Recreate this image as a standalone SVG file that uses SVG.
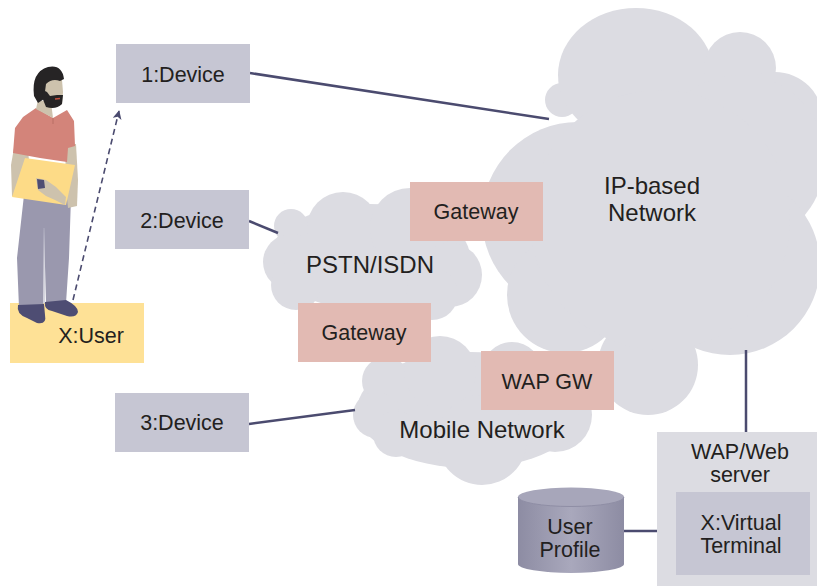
<svg xmlns="http://www.w3.org/2000/svg" width="817" height="586" viewBox="0 0 817 586">
  <defs>
    <style>
      .lbl { font-family: "Liberation Sans", Arial, Helvetica, sans-serif; font-size: 21.5px; fill: #231f20; text-anchor: middle; }
      .cl { font-size: 24px; }
      .dev { fill: #c6c6d3; }
      .gw { fill: #e2bab3; }
      .cloud { fill: #dcdce2; }
      .link { stroke: #4b4b6f; stroke-width: 2.5; fill: none; }
      .skin { fill: #cdc2ad; }
    </style>
    <marker id="arrowhead" viewBox="0 0 10 10" refX="9" refY="5" markerWidth="9" markerHeight="9" markerUnits="userSpaceOnUse" orient="auto">
      <path d="M0,0 L10,5 L0,10 L2.5,5 Z" fill="#4b4b6f"/>
    </marker>
    <linearGradient id="cylBody" x1="0" y1="0" x2="1" y2="0">
      <stop offset="0" stop-color="#8d8ca3"/>
      <stop offset="0.5" stop-color="#a9a8bc"/>
      <stop offset="1" stop-color="#8d8ca3"/>
    </linearGradient>
  </defs>

  <!-- IP-based network cloud -->
  <g id="ip-network" class="cloud">
    <circle cx="562" cy="100" r="17"/>
    <ellipse cx="636" cy="75" rx="78" ry="67"/>
    <circle cx="740" cy="68" r="36"/>
    <circle cx="775" cy="120" r="48"/>
    <circle cx="740" cy="160" r="85"/>
    <circle cx="730" cy="265" r="90"/>
    <circle cx="648" cy="365" r="50"/>
    <circle cx="578" cy="218" r="96"/>
    <circle cx="565" cy="295" r="58"/>
    <circle cx="660" cy="220" r="130"/>
    <text class="lbl cl" x="652" y="194">IP-based</text>
    <text class="lbl cl" x="652" y="221">Network</text>
  </g>

  <!-- PSTN/ISDN cloud -->
  <g id="pstn-isdn" class="cloud">
    <ellipse cx="370" cy="257" rx="100" ry="53"/>
    <circle cx="291" cy="226" r="17"/>
    <circle cx="291" cy="262" r="28"/>
    <circle cx="296" cy="285" r="25"/>
    <circle cx="343" cy="228" r="36"/>
    <circle cx="410" cy="228" r="40"/>
    <circle cx="450" cy="275" r="32"/>
    <circle cx="432" cy="294" r="26"/>
    <text class="lbl cl" x="370" y="273">PSTN/ISDN</text>
  </g>

  <!-- Mobile network cloud -->
  <g id="mobile-network" class="cloud">
    <ellipse cx="470" cy="410" rx="113" ry="58"/>
    <circle cx="386" cy="381" r="24"/>
    <circle cx="376" cy="415" r="23"/>
    <circle cx="396" cy="434" r="23"/>
    <circle cx="482" cy="440" r="45"/>
    <circle cx="440" cy="372" r="36"/>
    <circle cx="512" cy="372" r="30"/>
    <circle cx="555" cy="415" r="37"/>
    <text class="lbl cl" x="482" y="438">Mobile Network</text>
  </g>

  <!-- connectors -->
  <g id="connectors">
    <line class="link" x1="250" y1="73" x2="549" y2="119"/>
    <line class="link" x1="249" y1="221" x2="278" y2="233"/>
    <line class="link" x1="249" y1="424" x2="355" y2="410"/>
    <line class="link" x1="746" y1="350" x2="746" y2="433"/>
    <line class="link" x1="622" y1="531" x2="677" y2="531"/>
    <line x1="73" y1="300" x2="119" y2="111" stroke="#4b4b6f" stroke-width="1.6" stroke-dasharray="6 4" marker-end="url(#arrowhead)"/>
  </g>

  <!-- devices -->
  <g id="device-1">
    <rect class="dev" x="116" y="44" width="134" height="59"/>
    <text class="lbl" x="183" y="82">1:Device</text>
  </g>
  <g id="device-2">
    <rect class="dev" x="115" y="190" width="134" height="59"/>
    <text class="lbl" x="182" y="228">2:Device</text>
  </g>
  <g id="device-3">
    <rect class="dev" x="115" y="393" width="134" height="59"/>
    <text class="lbl" x="182" y="430">3:Device</text>
  </g>

  <!-- gateways -->
  <g id="gateway-ip">
    <rect class="gw" x="410" y="182" width="133" height="59"/>
    <text class="lbl" x="476" y="219">Gateway</text>
  </g>
  <g id="gateway-pstn">
    <rect class="gw" x="298" y="303" width="133" height="59"/>
    <text class="lbl" x="364" y="340">Gateway</text>
  </g>
  <g id="wap-gw">
    <rect class="gw" x="481" y="351" width="133" height="59"/>
    <text class="lbl" x="547" y="389">WAP GW</text>
  </g>

  <!-- WAP/Web server with virtual terminal -->
  <g id="wap-web-server">
    <rect class="cloud" x="657" y="432" width="160" height="154"/>
    <text class="lbl" x="740" y="459">WAP/Web</text>
    <text class="lbl" x="740" y="482">server</text>
  </g>
  <g id="virtual-terminal">
    <rect class="dev" x="676" y="492" width="134" height="83"/>
    <text class="lbl" x="741" y="530">X:Virtual</text>
    <text class="lbl" x="741" y="553">Terminal</text>
  </g>

  <!-- user profile store -->
  <g id="user-profile">
    <path d="M518,497 L518,564 A53,9 0 0 0 624,564 L624,497 Z" fill="url(#cylBody)"/>
    <ellipse cx="571" cy="497" rx="53" ry="9.5" fill="#a7a6ba"/>
    <path d="M518,497 A53,9.5 0 0 0 624,497" fill="none" stroke="#8f8ea5" stroke-width="1"/>
    <text class="lbl" x="570" y="534">User</text>
    <text class="lbl" x="570" y="557">Profile</text>
  </g>

  <!-- user -->
  <g id="user">
    <rect x="10" y="303" width="134" height="60" fill="#fee196"/>
    <text class="lbl" x="91" y="343">X:User</text>
    <!-- legs -->
    <path d="M24,195 L71,197 L69,258 L66,303 L46,304 L44,228 L43,306 L19,308 L17,258 Z" fill="#9a98ae"/>
    <line x1="44" y1="228" x2="44" y2="304" stroke="#aeadc0" stroke-width="1"/>
    <!-- shoes -->
    <path d="M18,305 Q16,314 27,318 L37,323 Q47,325 45,315 L44,304 Z" fill="#4e4d73"/>
    <path d="M45,302 L66,300 Q78,306 78,312 Q76,318 67,316 L52,311 Q44,310 45,302 Z" fill="#4e4d73"/>
    <!-- arms -->
    <path class="skin" d="M14,148 L28,148 L30,175 L27,196 L12,196 L11,165 Z"/>
    <path class="skin" d="M66,144 L76,144 L78,180 L77,206 L68,208 L65,180 Z"/>
    <!-- shirt -->
    <path d="M23,117 L36,108 L53,118 L67,110 L74,121 L75,146 L68,148 L67,162 L40,158 L13,153 L15,128 Z" fill="#d3847a"/>
    <path d="M53,118 L53,124" stroke="#b86e64" stroke-width="1"/>
    <!-- neck and head -->
    <path class="skin" d="M38,100 L51,102 L53,118 L36,109 Z"/>
    <path class="skin" d="M44,82 Q55,75 62,80 L63,92 L62,104 Q55,109 46,106 L43,96 Z"/>
    <path d="M34,96 Q31,72 48,67 Q62,64 64,79 L60,81 Q52,78 46,84 L44,99 L38,103 Z" fill="#262425"/>
    <path d="M43,90 L47,92 L50,96 L57,95 L63,95 L62,104 Q56,110 46,107 L42,97 Z" fill="#262425"/>
    <path d="M55,99 L60,98.5" stroke="#c4513f" stroke-width="1.4"/>
    <!-- folder -->
    <path d="M25,158 L75,165 L66,205 L12,197 Z" fill="#fddb87"/>
    <!-- hand and watch -->
    <path class="skin" d="M36,178 L46,180 L56,187 L66,197 L65,205 L55,200 L46,196 L38,190 Z"/>
    <path d="M37,179 L44,180 L45,188 L38,189 Z" fill="#4e4d73"/>
  </g>
</svg>
